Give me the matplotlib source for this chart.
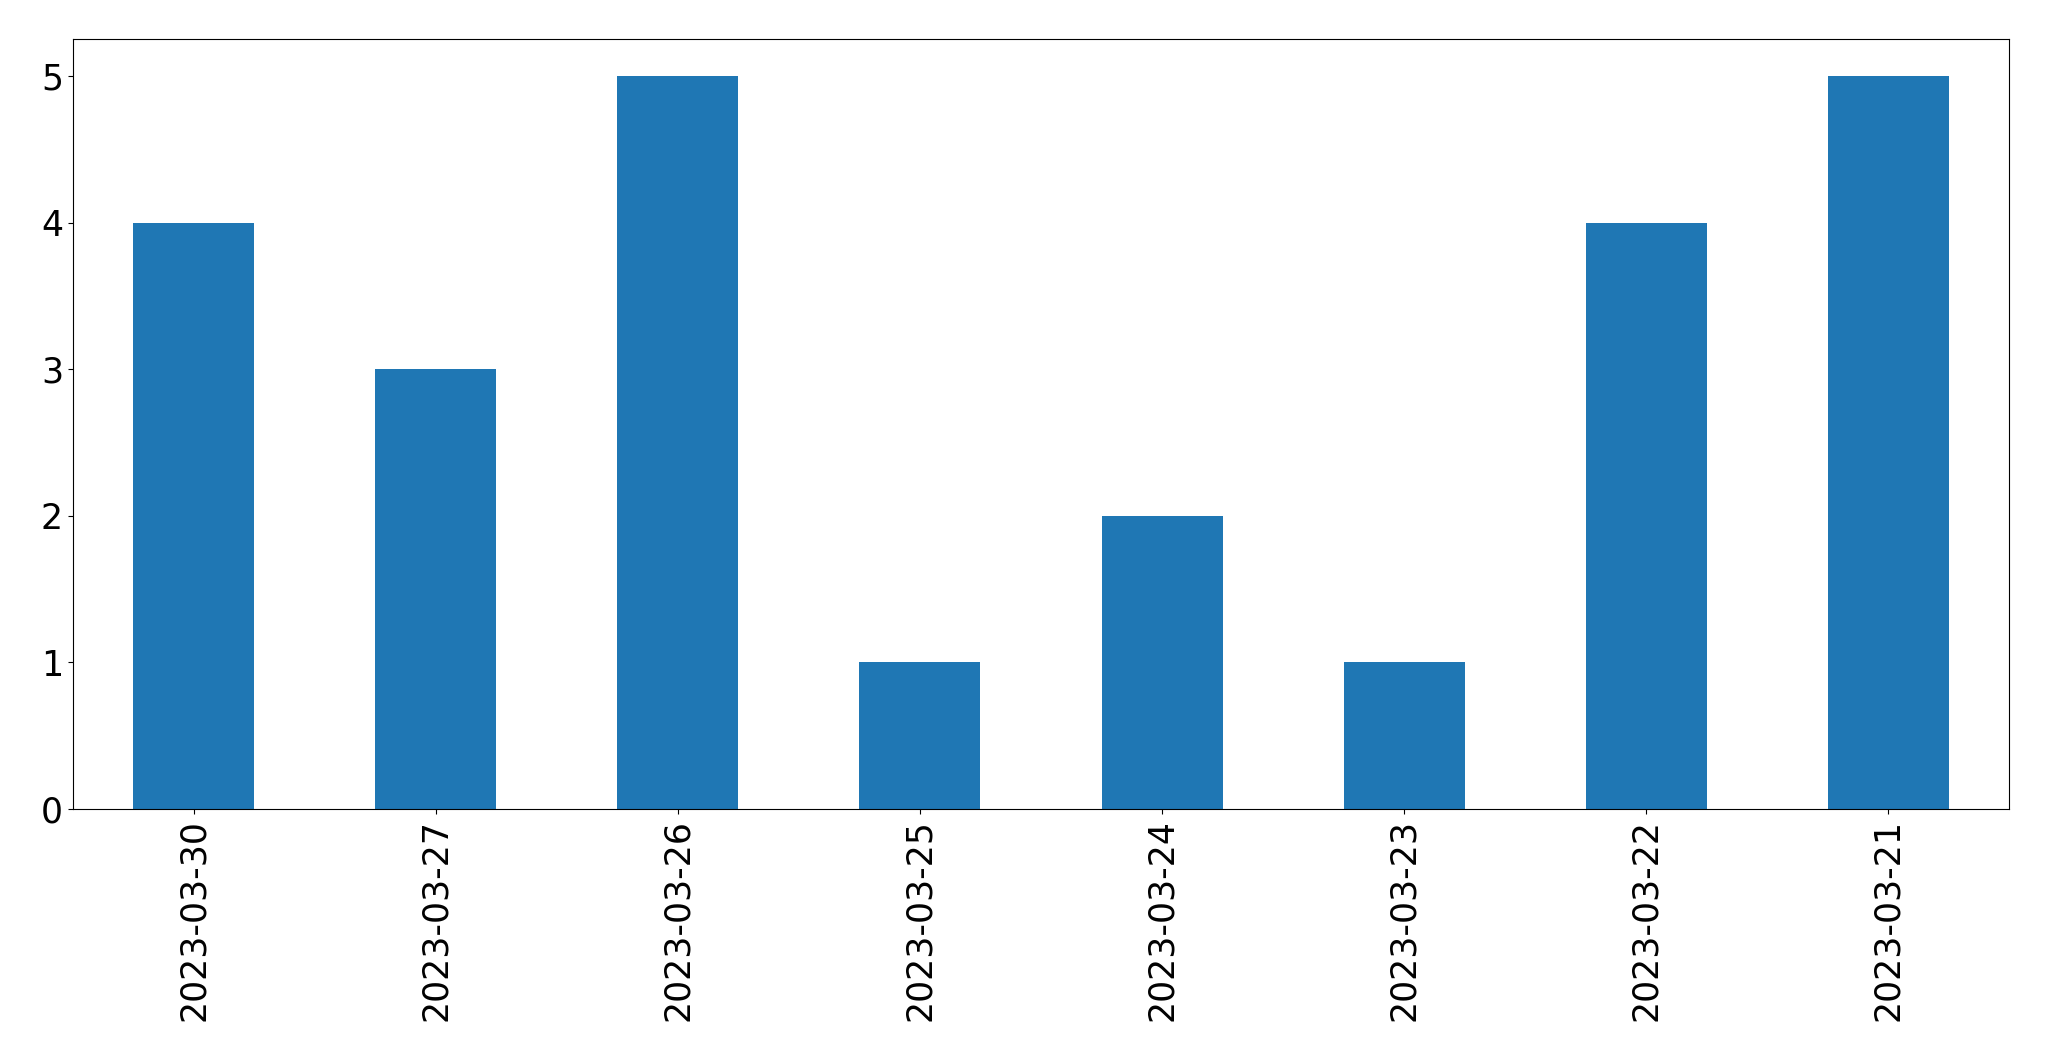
import numpy as np
import matplotlib
matplotlib.use("Agg")
import matplotlib.pyplot as plt

# dates as shown on the x axis, newest first
dates = ["2023-03-30", "2023-03-27", "2023-03-26", "2023-03-25",
         "2023-03-24", "2023-03-23", "2023-03-22", "2023-03-21"]
counts = [4, 3, 5, 1, 2, 1, 4, 5]


def plot_counts(dates, counts):
    """Bar chart of counts per date."""
    fig = plt.figure(figsize=(20.49, 10.61), dpi=100)
    ax = fig.add_axes([72.7 / 2049, 1 - 809 / 1061,
                       (2009.3 - 72.7) / 2049, (809 - 39.3) / 1061])
    x = np.arange(len(dates))
    ax.bar(x, counts, width=0.5, color="#1f77b4")
    ax.set_xlim(-0.5, len(dates) - 0.5)
    ax.set_ylim(0, 5.25)
    ax.set_xticks(x)
    ax.set_xticklabels(dates, rotation=90)
    ax.set_yticks(range(6))
    ax.tick_params(labelsize=25)
    fig.savefig("out.png", dpi=100)


def main():
    plot_counts(dates, counts)


if __name__ == "__main__":
    main()
